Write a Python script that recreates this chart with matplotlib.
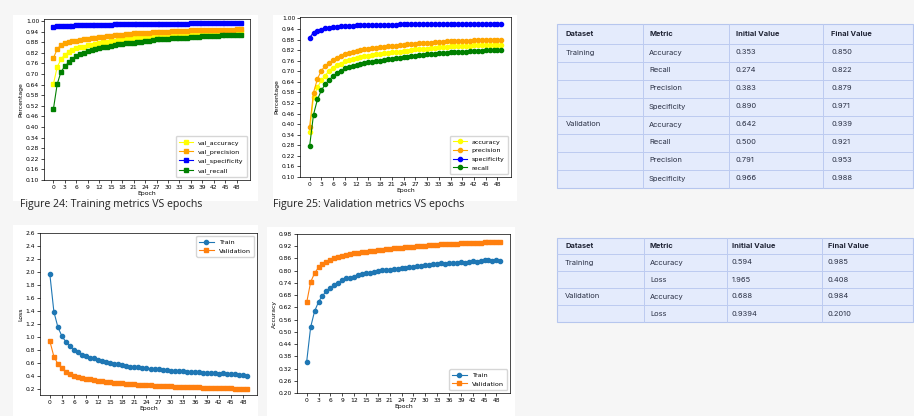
import numpy as np
import matplotlib
matplotlib.use("Agg")
import matplotlib.pyplot as plt
from matplotlib.patches import Rectangle
from matplotlib.ticker import FormatStrFormatter

W, H = 914, 416

epochs = list(range(50))

# figure 24 (val metrics)
val_accuracy = [0.642, 0.740, 0.784, 0.810, 0.825, 0.837, 0.845, 0.851, 0.856, 0.862,
                0.867, 0.872, 0.877, 0.880, 0.883, 0.886, 0.890, 0.893, 0.896, 0.898,
                0.901, 0.903, 0.906, 0.908, 0.911, 0.913, 0.914, 0.916, 0.918, 0.920,
                0.922, 0.923, 0.925, 0.926, 0.927, 0.928, 0.930, 0.931, 0.932, 0.933,
                0.934, 0.934, 0.935, 0.936, 0.936, 0.937, 0.937, 0.938, 0.938, 0.939]
val_precision = [0.791, 0.840, 0.867, 0.877, 0.882, 0.886, 0.890, 0.893, 0.897, 0.900,
                 0.903, 0.906, 0.909, 0.911, 0.913, 0.916, 0.919, 0.921, 0.924, 0.926,
                 0.928, 0.930, 0.931, 0.933, 0.934, 0.935, 0.936, 0.937, 0.939, 0.940,
                 0.941, 0.942, 0.942, 0.943, 0.944, 0.945, 0.947, 0.947, 0.948, 0.948,
                 0.949, 0.949, 0.950, 0.950, 0.951, 0.951, 0.952, 0.952, 0.953, 0.953]
val_specificity = [0.966, 0.970, 0.972, 0.974, 0.975, 0.975, 0.976, 0.977, 0.977, 0.978,
                   0.978, 0.979, 0.979, 0.979, 0.980, 0.980, 0.981, 0.981, 0.981, 0.982,
                   0.982, 0.982, 0.983, 0.983, 0.983, 0.984, 0.984, 0.984, 0.985, 0.985,
                   0.985, 0.985, 0.986, 0.986, 0.986, 0.986, 0.987, 0.987, 0.987, 0.987,
                   0.987, 0.987, 0.988, 0.988, 0.988, 0.988, 0.988, 0.988, 0.988, 0.988]
val_recall = [0.500, 0.643, 0.713, 0.744, 0.766, 0.785, 0.804, 0.814, 0.820, 0.828,
              0.835, 0.842, 0.848, 0.852, 0.856, 0.860, 0.864, 0.868, 0.871, 0.874,
              0.876, 0.878, 0.881, 0.884, 0.886, 0.890, 0.893, 0.896, 0.898, 0.900,
              0.901, 0.902, 0.904, 0.905, 0.906, 0.907, 0.909, 0.910, 0.912, 0.913,
              0.915, 0.916, 0.917, 0.918, 0.919, 0.920, 0.920, 0.921, 0.921, 0.921]

# figure 25 (training metrics)
accuracy = [0.353, 0.555, 0.608, 0.648, 0.676, 0.703, 0.721, 0.735, 0.744, 0.757,
            0.763, 0.769, 0.775, 0.780, 0.784, 0.788, 0.792, 0.796, 0.799, 0.802,
            0.805, 0.807, 0.809, 0.812, 0.814, 0.817, 0.820, 0.824, 0.826, 0.828,
            0.829, 0.831, 0.833, 0.835, 0.837, 0.839, 0.841, 0.842, 0.843, 0.844,
            0.845, 0.846, 0.847, 0.848, 0.849, 0.850, 0.850, 0.850, 0.851, 0.850]
precision = [0.383, 0.579, 0.657, 0.703, 0.731, 0.748, 0.765, 0.776, 0.788, 0.797,
             0.805, 0.810, 0.816, 0.820, 0.824, 0.828, 0.830, 0.833, 0.835, 0.839,
             0.842, 0.845, 0.846, 0.848, 0.850, 0.852, 0.854, 0.856, 0.858, 0.860,
             0.862, 0.863, 0.864, 0.865, 0.867, 0.869, 0.871, 0.871, 0.872, 0.872,
             0.873, 0.874, 0.875, 0.876, 0.877, 0.878, 0.878, 0.879, 0.879, 0.879]
specificity = [0.890, 0.920, 0.930, 0.936, 0.943, 0.947, 0.949, 0.952, 0.955, 0.956,
               0.958, 0.959, 0.960, 0.961, 0.961, 0.962, 0.962, 0.963, 0.963, 0.964,
               0.964, 0.965, 0.965, 0.966, 0.966, 0.967, 0.967, 0.967, 0.968, 0.968,
               0.968, 0.969, 0.969, 0.969, 0.969, 0.970, 0.970, 0.970, 0.970, 0.970,
               0.970, 0.971, 0.971, 0.971, 0.971, 0.971, 0.971, 0.971, 0.971, 0.971]
recall = [0.274, 0.454, 0.540, 0.591, 0.627, 0.651, 0.672, 0.689, 0.701, 0.716,
          0.725, 0.730, 0.735, 0.740, 0.745, 0.750, 0.754, 0.758, 0.761, 0.765,
          0.768, 0.771, 0.774, 0.777, 0.780, 0.783, 0.785, 0.788, 0.791, 0.794,
          0.797, 0.799, 0.800, 0.801, 0.803, 0.805, 0.807, 0.808, 0.810, 0.811,
          0.812, 0.813, 0.815, 0.816, 0.817, 0.818, 0.819, 0.820, 0.821, 0.822]

# loss
train_loss = [1.965, 1.390, 1.154, 1.015, 0.928, 0.867, 0.810, 0.769, 0.733, 0.708,
              0.687, 0.682, 0.651, 0.631, 0.615, 0.600, 0.590, 0.585, 0.574, 0.564,
              0.549, 0.544, 0.538, 0.528, 0.523, 0.518, 0.513, 0.508, 0.492, 0.490,
              0.487, 0.484, 0.480, 0.477, 0.470, 0.462, 0.467, 0.460, 0.456, 0.453,
              0.451, 0.446, 0.441, 0.446, 0.440, 0.431, 0.430, 0.426, 0.420, 0.408]
val_loss = [0.939, 0.703, 0.590, 0.528, 0.472, 0.441, 0.410, 0.390, 0.374, 0.364,
            0.354, 0.347, 0.333, 0.325, 0.316, 0.308, 0.303, 0.297, 0.292, 0.287,
            0.282, 0.277, 0.272, 0.268, 0.262, 0.259, 0.255, 0.251, 0.249, 0.248,
            0.246, 0.243, 0.239, 0.236, 0.234, 0.233, 0.231, 0.229, 0.228, 0.227,
            0.226, 0.224, 0.222, 0.220, 0.218, 0.215, 0.212, 0.209, 0.206, 0.201]

# accuracy
train_acc = [0.354, 0.523, 0.601, 0.647, 0.678, 0.698, 0.716, 0.731, 0.739, 0.754,
             0.762, 0.764, 0.770, 0.777, 0.782, 0.787, 0.788, 0.793, 0.798, 0.803,
             0.805, 0.805, 0.810, 0.810, 0.811, 0.813, 0.816, 0.818, 0.821, 0.824,
             0.827, 0.829, 0.831, 0.831, 0.836, 0.833, 0.837, 0.837, 0.839, 0.841,
             0.839, 0.844, 0.846, 0.844, 0.847, 0.851, 0.851, 0.847, 0.852, 0.849]
val_acc = [0.644, 0.744, 0.788, 0.816, 0.833, 0.844, 0.854, 0.860, 0.867, 0.873,
           0.877, 0.881, 0.885, 0.888, 0.890, 0.893, 0.895, 0.898, 0.900, 0.903,
           0.905, 0.908, 0.910, 0.912, 0.913, 0.915, 0.916, 0.918, 0.919, 0.921,
           0.923, 0.925, 0.927, 0.928, 0.929, 0.930, 0.931, 0.932, 0.933, 0.934,
           0.935, 0.936, 0.937, 0.938, 0.938, 0.939, 0.939, 0.940, 0.940, 0.941]

table1_header = ["Dataset", "Metric", "Initial Value", "Final Value"]
table1_rows = [["Training", "Accuracy", "0.353", "0.850"],
               ["", "Recall", "0.274", "0.822"],
               ["", "Precision", "0.383", "0.879"],
               ["", "Specificity", "0.890", "0.971"],
               ["Validation", "Accuracy", "0.642", "0.939"],
               ["", "Recall", "0.500", "0.921"],
               ["", "Precision", "0.791", "0.953"],
               ["", "Specificity", "0.966", "0.988"]]
table2_rows = [["Training", "Accuracy", "0.594", "0.985"],
               ["", "Loss", "1.965", "0.408"],
               ["Validation", "Accuracy", "0.688", "0.984"],
               ["", "Loss", "0.9394", "0.2010"]]

BG = "#f6f6f6"
fig = plt.figure(figsize=(W / 100, H / 100), dpi=100, facecolor=BG)


def box(l, t, r, b):
    # pixel box (top-left origin) -> figure fraction
    return [l / W, 1 - b / H, (r - l) / W, (b - t) / H]


def panel(l, t, r, b):
    fig.patches.append(Rectangle((l / W, 1 - b / H), (r - l) / W, (b - t) / H,
                                 transform=fig.transFigure, facecolor="white",
                                 edgecolor="none", zorder=-5))


def style(ax, ylabel, fmt):
    ax.set_xticks(range(0, 50, 3))
    ax.yaxis.set_major_formatter(FormatStrFormatter(fmt))
    ax.tick_params(labelsize=4.3, length=2, width=0.5, pad=1.5)
    ax.set_xlabel("Epoch", fontsize=4.4, labelpad=1)
    ax.set_ylabel(ylabel, fontsize=4.4, labelpad=1.5)
    for s in ax.spines.values():
        s.set_linewidth(0.5)


lw, ms = 0.8, 3.0
leg_kw = dict(fontsize=4.6, handlelength=2.2, borderpad=0.5, labelspacing=0.5)

panel(13, 15, 258, 201)
panel(273, 15, 517, 201)
panel(13, 225, 258, 416)
panel(267, 227, 515, 416)

# Figure 24
ax1 = fig.add_axes(box(44, 19, 250, 180))
ax1.plot(epochs, val_accuracy, color="yellow", marker="s", lw=lw, ms=ms, label="val_accuracy")
ax1.plot(epochs, val_precision, color="orange", marker="s", lw=lw, ms=ms, label="val_precision")
ax1.plot(epochs, val_specificity, color="blue", marker="s", lw=lw, ms=ms, label="val_specificity")
ax1.plot(epochs, val_recall, color="green", marker="s", lw=lw, ms=ms, label="val_recall")
ax1.set_yticks(np.arange(0.10, 1.001, 0.06))
ax1.set_ylim(0.1, 1.012)
style(ax1, "Percentage", "%.2f")
ax1.legend(loc="lower right", **leg_kw)

# Figure 25
ax2 = fig.add_axes(box(300, 17, 511, 177))
ax2.plot(epochs, accuracy, color="yellow", marker="o", lw=lw, ms=ms, label="accuracy")
ax2.plot(epochs, precision, color="orange", marker="o", lw=lw, ms=ms, label="precision")
ax2.plot(epochs, specificity, color="blue", marker="o", lw=lw, ms=ms, label="specificity")
ax2.plot(epochs, recall, color="green", marker="o", lw=lw, ms=ms, label="recall")
ax2.set_yticks(np.arange(0.10, 1.001, 0.06))
ax2.set_ylim(0.1, 1.008)
style(ax2, "Percentage", "%.2f")
ax2.legend(loc="lower right", **leg_kw)

# loss
ax3 = fig.add_axes(box(40, 233, 257, 395))
ax3.plot(epochs, train_loss, marker="o", lw=lw, ms=ms, label="Train")
ax3.plot(epochs, val_loss, marker="s", lw=lw, ms=ms, label="Validation")
ax3.set_yticks(np.arange(0.2, 2.61, 0.2))
ax3.set_ylim(0.113, 2.6)
style(ax3, "Loss", "%.1f")
ax3.legend(loc="upper right", **leg_kw)

# accuracy
ax4 = fig.add_axes(box(297, 234, 510, 393))
ax4.plot(epochs, train_acc, marker="o", lw=lw, ms=ms, label="Train")
ax4.plot(epochs, val_acc, marker="s", lw=lw, ms=ms, label="Validation")
ax4.set_yticks(np.arange(0.20, 0.981, 0.06))
ax4.set_ylim(0.2, 0.98)
style(ax4, "Accuracy", "%.2f")
ax4.legend(loc="lower right", **leg_kw)

# captions
fig.text(20 / W, 1 - 205 / H, "Figure 24: Training metrics VS epochs", fontsize=7.6,
         family="Open Sans", color="#222222", va="center", ha="left")
fig.text(273 / W, 1 - 205 / H, "Figure 25: Validation metrics VS epochs", fontsize=7.6,
         family="Open Sans", color="#222222", va="center", ha="left")


def draw_table(top, header_h, row_h, rows, col_x, col_div):
    n = len(rows)
    bottom = top + header_h + n * row_h
    tx = fig.add_axes(box(556, top - 2, 914, bottom + 2), zorder=5)
    tx.set_xlim(556, 914)
    tx.set_ylim(bottom + 2, top - 2)
    tx.axis("off")
    tx.add_patch(Rectangle((557, top), 913 - 557, bottom - top, facecolor="#e4ebfc",
                           edgecolor="#b6c6ee", lw=0.8))
    ys = [top + header_h + i * row_h for i in range(n)]
    for y in ys:
        tx.plot([557, 913], [y, y], color="#bccbf0", lw=0.7)
    for x in col_div:
        tx.plot([x, x], [top, bottom], color="#bccbf0", lw=0.7)
    for x, h in zip(col_x, table1_header):
        tx.text(x, top + header_h / 2, h, fontsize=5.4, fontweight="bold",
                family="Inter", color="#1e2233", va="center", ha="left")
    for i, row in enumerate(rows):
        yc = top + header_h + i * row_h + row_h / 2
        for x, v in zip(col_x, row):
            tx.text(x, yc, v, fontsize=5.4, family="Inter", color="#2a3044",
                    va="center", ha="left")


draw_table(23.5, 20, 18.0, table1_rows, [566, 649, 736, 831], [643, 729, 823])
draw_table(237.5, 16.5, 17.0, table2_rows, [565, 650, 732, 828], [644, 727, 822])

fig.savefig("out.png", dpi=100, facecolor=BG)
